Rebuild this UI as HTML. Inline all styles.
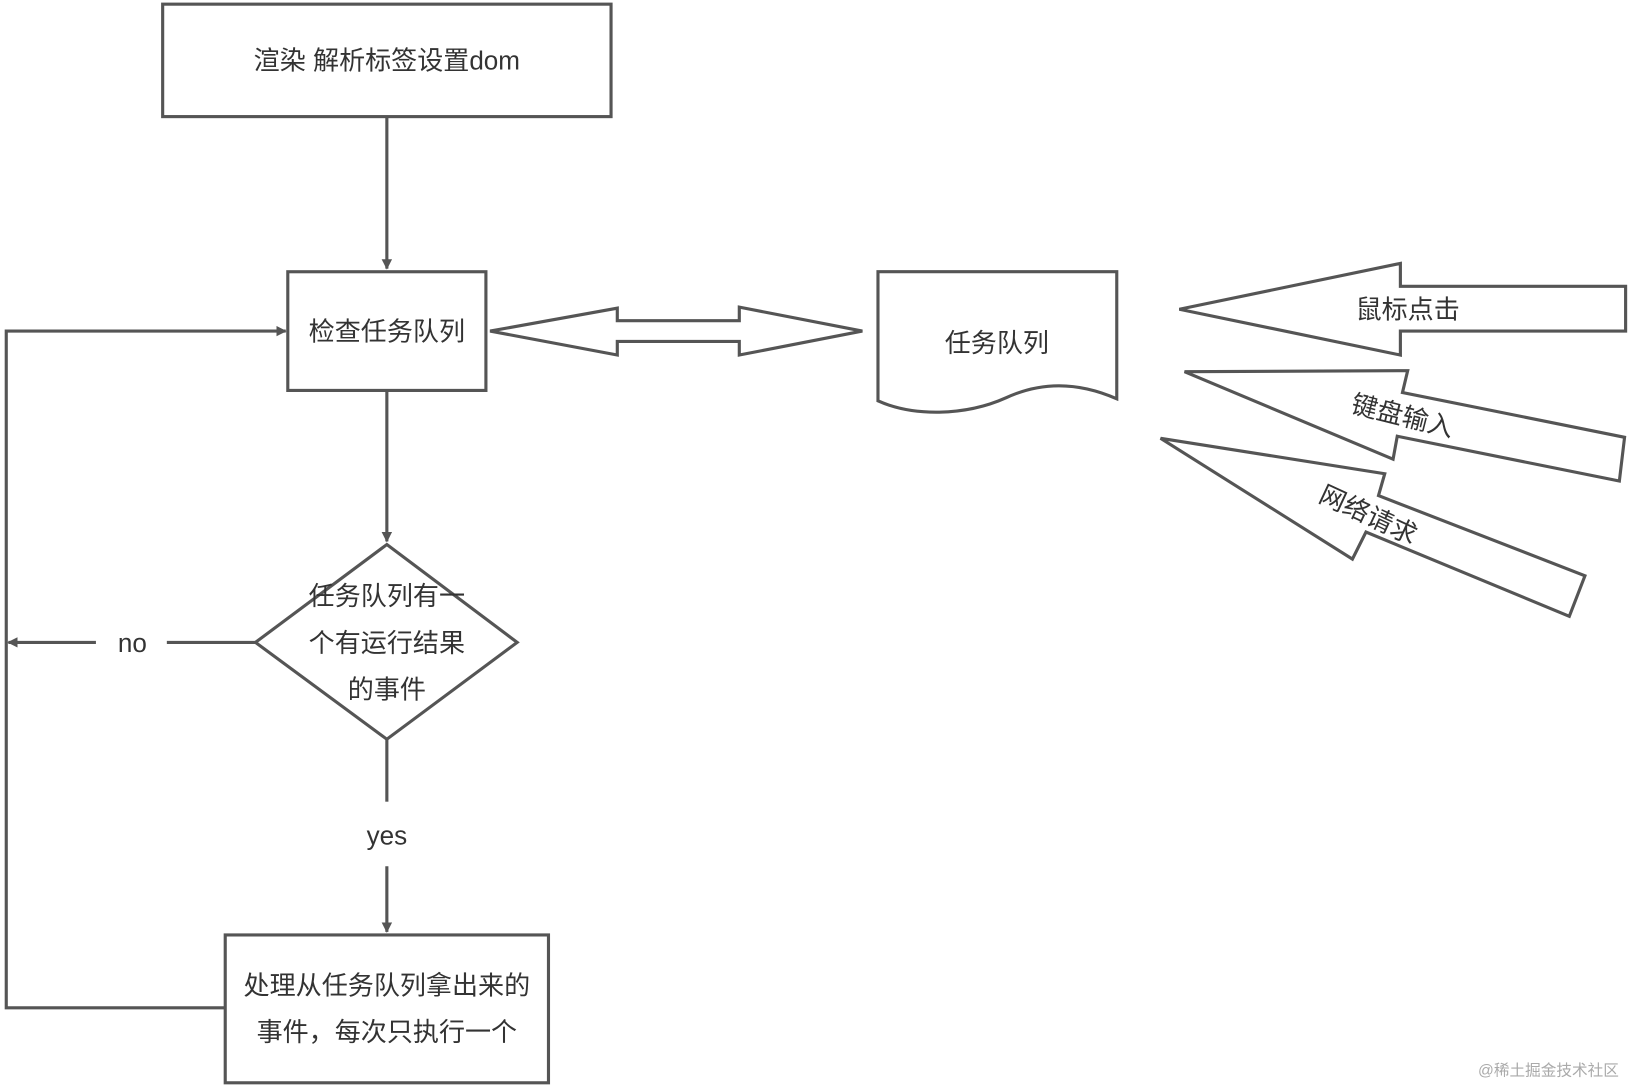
<!DOCTYPE html>
<html><head><meta charset="utf-8"><style>
html,body{margin:0;padding:0;background:#fff;width:1635px;height:1088px;overflow:hidden}
svg{display:block}
text{font-family:"Liberation Sans","Noto Sans CJK SC",sans-serif;fill:#333}
</style></head><body>
<svg width="1635" height="1088" viewBox="0 0 1568 1045" preserveAspectRatio="none">
<defs><marker id="a" markerWidth="10" markerHeight="10" refX="9" refY="5" orient="auto" markerUnits="userSpaceOnUse"><path d="M0,0 L10,5 L0,10 Z" fill="#555"/></marker></defs>
<g fill="none" stroke="#555" stroke-width="3">
<rect x="156" y="4" width="430" height="108" fill="#fff"/>
<line x1="371" y1="112" x2="371" y2="258" marker-end="url(#a)"/>
<rect x="276" y="261" width="190" height="114"/>
<line x1="371" y1="375" x2="371" y2="520" marker-end="url(#a)"/>
<polygon points="371,523 496,617 371,710 245,617"/>
<line x1="245" y1="617" x2="160" y2="617"/>
<line x1="92" y1="617" x2="8" y2="617" marker-end="url(#a)"/>
<line x1="371" y1="710" x2="371" y2="770"/>
<line x1="371" y1="832" x2="371" y2="895" marker-end="url(#a)"/>
<rect x="216" y="898" width="310" height="142"/>
<polyline points="216,968 6,968 6,318 274,318" marker-end="url(#a)"/>
<polygon points="470,318 592,296 592,308 709,308 709,295 827,318 709,341 709,328 592,328 592,341"/>
<path d="M842,261 H1071 V383 C1030,365 995,368 965,382 C925,400 875,400 842,385 Z"/>
<polygon points="1131,297 1343,253 1343,275 1559,275 1559,318 1343,318 1343,341"/>
<polygon points="1136,357 1350,356 1345,377 1558,420 1553,462 1340,419 1336,441"/>
<polygon points="1113,421 1328,455 1322,476 1520,553 1505,592 1310,511 1297,537"/>
</g>
<g font-size="25" text-anchor="middle">
<text x="371" y="67">渲染 解析标签设置dom</text>
<text x="371" y="327">检查任务队列</text>
<text x="371" y="581">任务队列有一</text>
<text x="371" y="626">个有运行结果</text>
<text x="371" y="671">的事件</text>
<text x="127" y="626">no</text>
<text x="371" y="811">yes</text>
<text x="371" y="955">处理从任务队列拿出来的</text>
<text x="371" y="1000">事件，每次只执行一个</text>
<text x="956" y="338">任务队列</text>
<text x="1350" y="306">鼠标点击</text>
<text x="1345" y="408" transform="rotate(14 1345 400)">键盘输入</text>
<text x="1312" y="503" transform="rotate(25 1312 495)">网络请求</text>
</g>
<text x="1485" y="1033" font-size="15" text-anchor="middle" style="fill:#aaa">@稀土掘金技术社区</text>
</svg>
</body></html>
